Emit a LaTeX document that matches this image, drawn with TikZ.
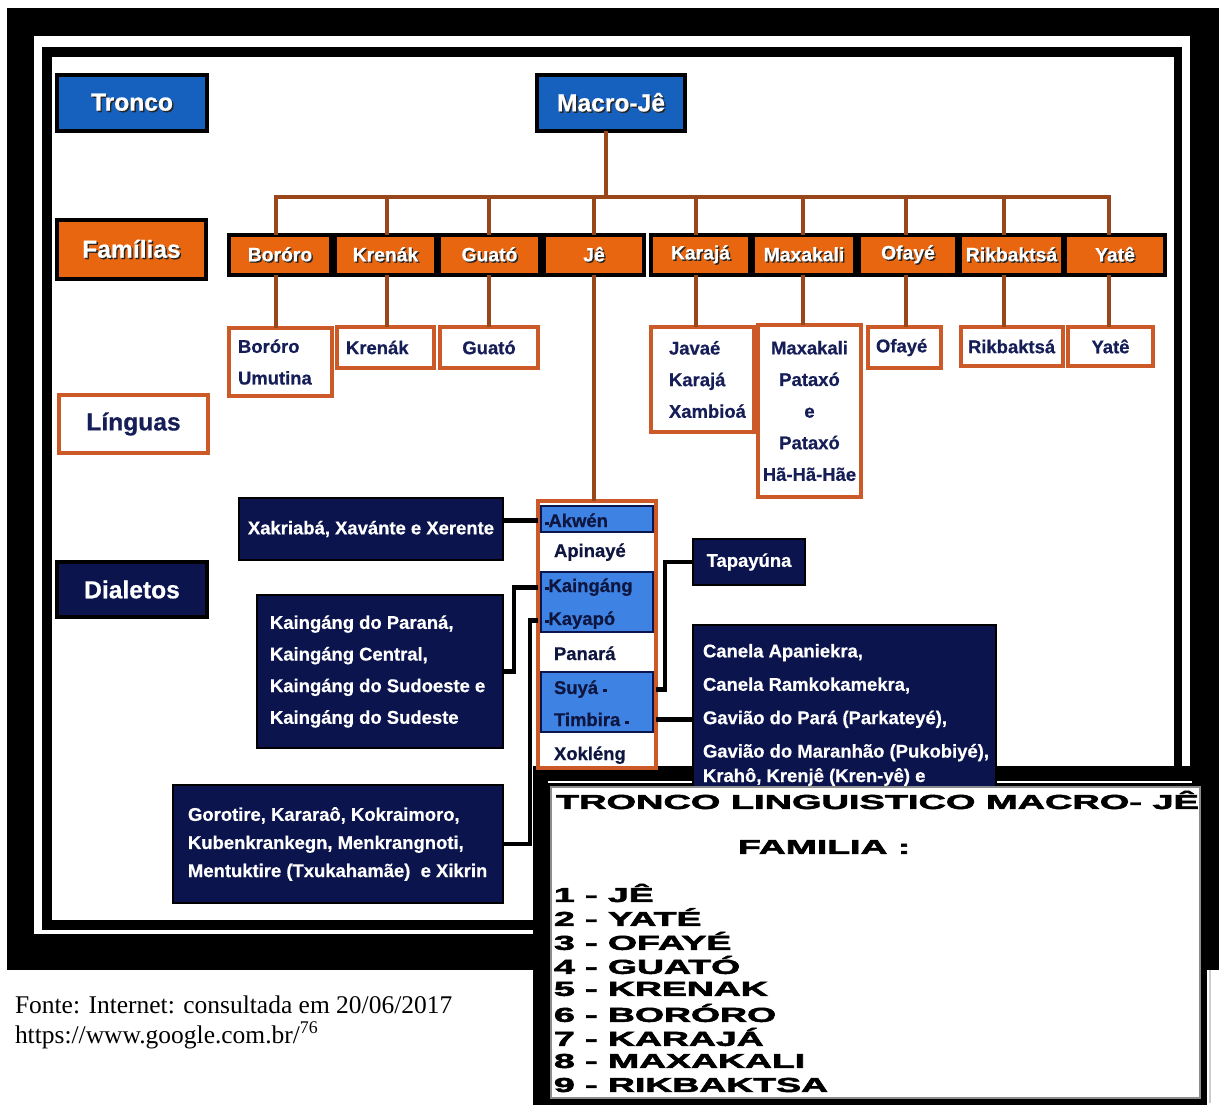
\documentclass[tikz,border=0pt]{standalone}
\usepackage{fontspec}
\setmainfont[BoldFeatures={FakeBold=0.6}]{Liberation Sans}
\newfontfamily\heavyfont[BoldFeatures={FakeBold=2.2}]{Liberation Sans}
\newfontfamily\seriffont{Liberation Serif}
\usepackage{graphicx}
\definecolor{bluebox}{RGB}{22,96,190}
\definecolor{bluerow}{RGB}{62,130,228}
\definecolor{famorange}{RGB}{232,102,16}
\definecolor{barbrown}{RGB}{152,70,26}
\definecolor{langborder}{RGB}{204,90,40}
\definecolor{navy}{RGB}{12,20,78}
\definecolor{navytext}{RGB}{22,30,88}
\definecolor{rowtext}{RGB}{14,22,64}
\newcommand\shd[1]{\makebox[0pt][l]{\kern0.8pt\raisebox{-0.8pt}{\color{black!85}#1}}#1}
% box by corners, centred text
\newcommand\bx[7]{%
  \pgfmathsetmacro\bxw{(#4-#2)*0.02}\pgfmathsetmacro\bxh{(#5-#3)*0.02}%
  \node[#6, minimum width=\bxw cm, minimum height=\bxh cm] (#1) at ({(#2+#4)/2},{(#3+#5)/2}) {#7};}
% box by corners, left aligned text with left padding
\newcommand\bxl[8]{%
  \pgfmathsetmacro\bxw{(#4-#2)*0.02}\pgfmathsetmacro\bxh{(#5-#3)*0.02}%
  \node[#6, minimum width=\bxw cm, minimum height=\bxh cm] (#1) at ({(#2+#4)/2},{(#3+#5)/2}) {};
  \node[#6, draw=none, fill=none, anchor=west, align=left] (#1t) at ({#2+#8},{(#3+#5)/2}) {#7};}
\tikzset{
  every node/.style={inner sep=0pt, outer sep=0pt},
  hdr/.style={draw=black, line width=2.4pt, text=white, font=\fontsize{14}{16}\selectfont\bfseries},
  fam/.style={draw=black, line width=2pt, fill=famorange, text=white, font=\fontsize{11}{13}\selectfont\bfseries},
  lang/.style={draw=langborder, line width=2.2pt, fill=white, text=navytext, font=\fontsize{10.5}{18}\selectfont\bfseries},
  dial/.style={draw=black, line width=1.6pt, fill=navy, text=white, font=\fontsize{10.5}{18}\selectfont\bfseries},
  colbox/.style={draw=langborder, line width=2.2pt, fill=white},
  rowblue/.style={draw=navy, line width=0.9pt, fill=bluerow},
  rowtxt/.style={text=rowtext, font=\fontsize{10.5}{12}\selectfont\bfseries, anchor=base west},
  famline/.style={draw=barbrown, line width=2.6pt},
  blkline/.style={draw=black, line width=2.8pt},
  insettxt/.style={font=\heavyfont\fontsize{11.5}{13}\selectfont\bfseries, anchor=west},
}
\newcommand\ins[1]{\scalebox{1.85}[1]{#1}}
\newcommand\dotm{\rule[1pt]{2pt}{2pt}}
\begin{document}
\begin{tikzpicture}[x=0.02cm,y=-0.02cm]
\useasboundingbox (0,0) rectangle (1219,1111);
\fill[white] (0,0) rectangle (1219,1111);
% main frame
\fill[black] (7,8) rectangle (1219,970);
\fill[white] (34,36) rectangle (1190,934);
\fill[black] (42,47) rectangle (1182,930);
\fill[white] (52,57) rectangle (1174,920);
% inset frame (black part)
\fill[black] (533,766) rectangle (1207,1105);
\draw[white, line width=0.8pt] (548,782) -- (1192,782);
\draw[white!80!black, line width=0.9pt] (1210,970) -- (1210,1103);

% headers on the left
\bx{tronco}{57}{75}{207}{131}{hdr,fill=bluebox}{\shd{Tronco}}
\bx{familias}{57}{220}{206}{279}{hdr,fill=famorange}{\shd{Famílias}}
\bx{linguas}{59}{395}{208}{453}{hdr,draw=langborder,fill=white,text=navytext}{Línguas}
\bx{dialetos}{57}{562}{207}{617}{hdr,fill=navy}{Dialetos}
\bx{macro}{537}{75}{685}{131}{hdr,fill=bluebox}{\shd{Macro-Jê}}

% families
\bx{bororo}{229}{235}{331}{275}{fam}{\shd{Boróro}}
\bx{krenak}{335}{235}{436}{275}{fam}{\shd{Krenák}}
\bx{guato}{439}{235}{540}{275}{fam}{\shd{Guató}}
\bx{je}{544}{235}{644}{275}{fam}{\shd{Jê}}
\bx{karaja}{651}{235}{750}{275}{fam}{\shd{Karajá}}
\bx{maxakali}{753}{235}{855}{275}{fam}{\shd{Maxakali}}
\bx{ofaye}{859}{235}{957}{275}{fam}{\shd{Ofayé}}
\bx{rikbaktsa}{960}{235}{1063}{275}{fam}{\shd{Rikbaktsá}}
\bx{yate}{1065}{235}{1165}{275}{fam}{\shd{Yatê}}

% languages
\bxl{bororoL}{229}{328}{332}{396}{lang}{Boróro\\Umutina}{9}
\bxl{krenakL}{337}{327}{434}{368}{lang}{Krenák}{9}
\bx{guatoL}{440}{327}{538}{368}{lang}{Guató}
\bxl{karajaL}{651}{327}{754}{432}{lang}{Javaé\\Karajá\\Xambioá}{18}
\bx{maxakaliL}{758}{325}{861}{497}{lang,align=center}{Maxakali\\Pataxó\\e\\Pataxó\\Hã-Hã-Hãe}
\bxl{ofayeL}{868}{327}{941}{368}{lang}{Ofayé}{8}
\bxl{rikbaktsaL}{961}{327}{1063}{366}{lang}{Rikbaktsá}{7}
\bx{yateL}{1068}{327}{1153}{366}{lang}{Yatê}

% tree connectors
\coordinate (d0) at (606,197);
\coordinate (d1) at (276,197);
\coordinate (d2) at (387,197);
\coordinate (d3) at (489,197);
\coordinate (d4) at (594,197);
\coordinate (d5) at (696,197);
\coordinate (d6) at (803,197);
\coordinate (d7) at (906,197);
\coordinate (d8) at (1004,197);
\coordinate (d9) at (1109,197);
\draw[famline] (d0 |- macro.south) -- (d0);
\draw[famline] ([xshift=-1.3pt]d1) -- ([xshift=1.3pt]d9);
\foreach \d/\f in {d1/bororo,d2/krenak,d3/guato,d4/je,d5/karaja,d6/maxakali,d7/ofaye,d8/rikbaktsa,d9/yate}{
  \draw[famline] (\d) -- (\d |- \f.north);
}
\foreach \d/\f/\l in {d1/bororo/bororoL,d2/krenak/krenakL,d3/guato/guatoL,d5/karaja/karajaL,d6/maxakali/maxakaliL,d7/ofaye/ofayeL,d8/rikbaktsa/rikbaktsaL,d9/yate/yateL}{
  \draw[famline] (\d |- \f.south) -- (\d |- \l.north);
}

% Je column
\bx{jecol}{538}{501}{656}{768}{colbox}{}
\draw[famline] (d4 |- je.south) -- (d4 |- jecol.north);
\bx{rowA}{541}{506}{653}{532}{rowblue}{}
\bx{rowB}{541}{572}{653}{632}{rowblue}{}
\bx{rowC}{541}{672}{653}{732}{rowblue}{}
\node[rowtxt] (akwen) at (545,527) {\dotm Akwén};
\node[rowtxt] (apinaye) at (554,557) {Apinayé};
\node[rowtxt] (kaingang) at (545,592) {\dotm Kaingáng};
\node[rowtxt] (kayapo) at (545,625) {\dotm Kayapó};
\node[rowtxt] (panara) at (554,660) {Panará};
\node[rowtxt] (suya) at (554,694) {Suyá \dotm};
\node[rowtxt] (timbira) at (554,726) {Timbira \dotm};
\node[rowtxt] (xokleng) at (554,760) {Xokléng};

% dialects
\bx{xak}{239}{498}{503}{560}{dial}{Xakriabá, Xavánte e Xerente}
\bxl{kdial}{257}{595}{503}{748}{dial}{Kaingáng do Paraná,\\Kaingáng Central,\\Kaingáng do Sudoeste e\\Kaingáng do Sudeste}{13}
\bxl{goro}{173}{785}{503}{903}{dial,font=\fontsize{10.5}{16}\selectfont\bfseries}{Gorotire, Kararaô, Kokraimoro,\\Kubenkrankegn, Menkrangnoti,\\Mentuktire (Txukahamãe) \ e Xikrin}{15}
\bx{tapa}{693}{539}{805}{585}{dial}{Tapayúna}
\bx{canela}{693}{625}{996}{792}{dial}{}
\node[dial, draw=none, fill=none, anchor=north west, align=left, font=\fontsize{10.5}{19}\selectfont\bfseries] (canelat) at (703,644)
  {Canela Apaniekra,\\Canela Ramkokamekra,\\Gavião do Pará (Parkateyé),\\Gavião do Maranhão (Pukobiyé),};
\node[dial, draw=none, fill=none, anchor=base west, font=\fontsize{10.5}{12}\selectfont\bfseries] (canelat5) at (703,782)
  {Krahô, Krenjê (Kren-yê) e};

% dialect connectors
\draw[blkline] (xak.east |- akwen) -- (jecol.west |- akwen);
\draw[blkline] (jecol.west |- kaingang) -- ++(-24,0) |- (kdial.east);
\draw[blkline] (jecol.west |- kayapo) -- ++(-8,0) |- (goro.east);
\draw[blkline] (jecol.east |- suya) -- ++(9,0) |- (tapa.west);
\draw[blkline] (jecol.east |- timbira) -- (canela.west |- timbira);

% inset interior
\fill[white] (551,787) rectangle (1200,1098);
\draw[black!45, line width=0.8pt] (551,787) rectangle (1200,1098);
\node[insettxt] (t0) at (556,800) {\resizebox{12.86cm}{\height}{TRONCO LINGUISTICO MACRO- JÊ}};
\node[insettxt] (t1) at (738,847) {\ins{FAMILIA :}};
\node[insettxt] (l1) at (554,893) {\ins{1 - JÊ}};
\node[insettxt] (l2) at (554,917) {\ins{2 - YATÉ}};
\node[insettxt] (l3) at (554,941) {\ins{3 - OFAYÉ}};
\node[insettxt] (l4) at (554,965) {\ins{4 - GUATÓ}};
\node[insettxt] (l5) at (554,989) {\ins{5 - KRENAK}};
\node[insettxt] (l6) at (554,1013) {\ins{6 - BORÓRO}};
\node[insettxt] (l7) at (554,1037) {\ins{7 - KARAJÁ}};
\node[insettxt] (l8) at (554,1061) {\ins{8 - MAXAKALI}};
\node[insettxt] (l9) at (554,1085) {\ins{9 - RIKBAKTSA}};

% source
\node[font=\seriffont\fontsize{14.5}{17}\selectfont, anchor=base west] (fonte1) at (15,1013) {Fonte: Internet: consultada em 20/06/2017};
\node[font=\seriffont\fontsize{14.5}{17}\selectfont, anchor=base west] (fonte2) at (15,1043) {https://www.google.com.br/\textsuperscript{76}};
\end{tikzpicture}
\end{document}
